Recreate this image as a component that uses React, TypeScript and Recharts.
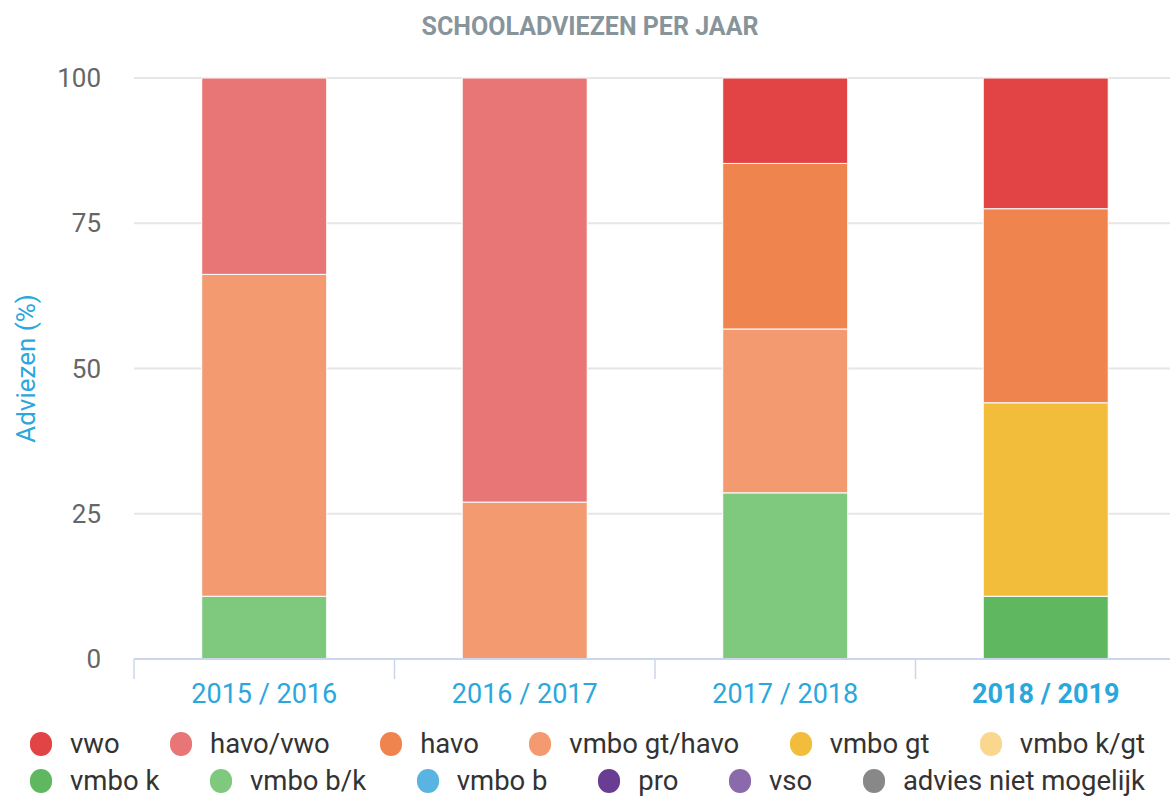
import React from 'react'
import {
  BarChart,
  Bar,
  XAxis,
  YAxis,
  CartesianGrid,
} from 'recharts'

// school years on the x axis
const categories = ['2015 / 2016', '2016 / 2017', '2017 / 2018', '2018 / 2019']

// percentages per advice, one value per school year (null = no bar)
const vwo = [null, null, 14.7, 22.5]
const havoVwo = [33.8, 73.0, null, null]
const havo = [null, null, 28.5, 33.4]
const vmboGtHavo = [55.4, 27.0, 28.2, null]
const vmboGt = [null, null, null, 33.3]
const vmboKGt = [null, null, null, null]
const vmboK = [null, null, null, 10.8]
const vmboBK = [10.8, null, 28.6, null]
const vmboB = [null, null, null, null]
const pro = [null, null, null, null]
const vso = [null, null, null, null]
const adviesNietMogelijk = [null, null, null, null]

const yTicks = [0, 25, 50, 75, 100]
const edgeTicks = [0, 1, 2, 3, 4]

// legend order (top of stack first)
const series = [
  { key: 'vwo', name: 'vwo', color: '#e24446', values: vwo },
  { key: 'havoVwo', name: 'havo/vwo', color: '#e87676', values: havoVwo },
  { key: 'havo', name: 'havo', color: '#f0844f', values: havo },
  { key: 'vmboGtHavo', name: 'vmbo gt/havo', color: '#f49a70', values: vmboGtHavo },
  { key: 'vmboGt', name: 'vmbo gt', color: '#f3bd3c', values: vmboGt },
  { key: 'vmboKGt', name: 'vmbo k/gt', color: '#f9d78e', values: vmboKGt },
  { key: 'vmboK', name: 'vmbo k', color: '#5fb85f', values: vmboK },
  { key: 'vmboBK', name: 'vmbo b/k', color: '#7fc97f', values: vmboBK },
  { key: 'vmboB', name: 'vmbo b', color: '#5ab4e2', values: vmboB },
  { key: 'pro', name: 'pro', color: '#6a3d95', values: pro },
  { key: 'vso', name: 'vso', color: '#8b6aac', values: vso },
  { key: 'advies', name: 'advies niet mogelijk', color: '#888888', values: adviesNietMogelijk },
]

const data = categories.map((year, i) => {
  const row: Record<string, any> = { year, slot: i + 0.5 }
  series.forEach((s) => {
    row[s.key] = s.values[i]
  })
  return row
})

const FONT = 'Roboto, sans-serif'

const YearTick = (props: any) => {
  const { x, y, payload, index } = props
  const last = index === categories.length - 1
  return (
    <text
      x={x}
      y={y}
      dy={35}
      textAnchor='middle'
      fill='#2aa7dd'
      fontSize={27}
      fontWeight={last ? 700 : 400}
      fontFamily={FONT}>
      {payload.value}
    </text>
  )
}

// boundary axis only shows its tick lines, no labels
const NoLabel = () => <g />

const YLabel = (props: any) => {
  const { viewBox } = props
  const cx = viewBox.x + 26
  const cy = viewBox.y + viewBox.height / 2
  return (
    <text
      x={cx}
      y={cy}
      transform={`rotate(-90 ${cx} ${cy})`}
      textAnchor='middle'
      dominantBaseline='central'
      fill='#2aa7dd'
      fontSize={26}
      fontFamily={FONT}>
      Adviezen (%)
    </text>
  )
}

const legendRows = [series.slice(0, 6), series.slice(6)]

const LegendBlock = () => (
  <div style={{ position: 'absolute', left: 30, top: 725, width: 1115 }}>
    {legendRows.map((row, r) => (
      <div
        key={r}
        style={{
          display: 'flex',
          justifyContent: 'space-between',
          alignItems: 'center',
          height: 37,
        }}>
        {row.map((s) => (
          <div key={s.key} style={{ display: 'flex', alignItems: 'center' }}>
            <span
              style={{
                display: 'inline-block',
                width: 22,
                height: 24,
                borderRadius: 11,
                background: s.color,
                marginRight: 18,
              }}
            />
            <span style={{ fontFamily: FONT, fontSize: 27.5, color: '#333' }}>{s.name}</span>
          </div>
        ))}
      </div>
    ))}
  </div>
)

export default function App() {
  const stackOrder = [...series].reverse()
  return (
    <div
      style={{
        position: 'absolute',
        left: 0,
        top: 0,
        width: 1170,
        height: 796,
        overflow: 'hidden',
        background: '#fff',
      }}>
      <div
        style={{
          position: 'absolute',
          left: 0,
          top: 14,
          width: 1180,
          textAlign: 'center',
          fontFamily: FONT,
          fontWeight: 700,
          fontSize: 25,
          lineHeight: '26px',
          color: '#87959b',
        }}>
        SCHOOLADVIEZEN PER JAAR
      </div>
      <BarChart
        width={1180}
        height={796}
        data={data}
        barCategoryGap='26%'
        margin={{ top: 78, right: 4, left: 0, bottom: 86 }}>
        <CartesianGrid vertical={false} stroke='#e6e6e6' strokeWidth={2} />
        <XAxis
          xAxisId='a'
          dataKey='slot'
          type='number'
          scale='linear'
          domain={[0, categories.length]}
          allowDataOverflow
          ticks={edgeTicks}
          tick={<NoLabel />}
          height={1}
          tickSize={20}
          axisLine={{ stroke: '#ccd6eb', strokeWidth: 2 }}
          tickLine={{ stroke: '#ccd6eb', strokeWidth: 1.5 }}
        />
        <XAxis
          xAxisId='b'
          dataKey='year'
          height={50}
          axisLine={false}
          tickLine={false}
          tick={<YearTick />}
        />
        <YAxis
          width={134}
          domain={[0, 100]}
          ticks={yTicks}
          axisLine={false}
          tickLine={false}
          tickMargin={27}
          tick={{ fill: '#666666', fontSize: 26, fontFamily: FONT }}
          label={<YLabel />}
        />
        {stackOrder.map((s) => (
          <Bar
            key={s.key}
            xAxisId='b'
            dataKey={s.key}
            name={s.name}
            stackId='a'
            fill={s.color}
            stroke='#ffffff'
            strokeWidth={1}
            isAnimationActive={false}
          />
        ))}
      </BarChart>
      <LegendBlock />
    </div>
  )
}
